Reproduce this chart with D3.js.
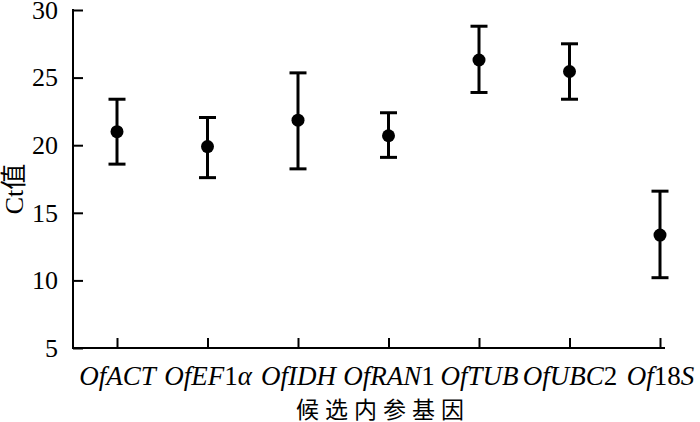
<!DOCTYPE html>
<html>
<head>
<meta charset="utf-8">
<script src="https://d3js.org/d3.v7.min.js"></script>
<style>
	body, html {
		margin: 0;
		padding: 0;
		background: #fff;
	}
	svg text {
		font-family: "Liberation Serif", "Times New Roman", "DejaVu Serif", "Noto Sans CJK SC", serif;
		fill: #000;
	}
	.axis path, .axis line {
		stroke: #000;
		stroke-width: 2;
	}
	.err {
		stroke: #000;
		stroke-width: 3;
		fill: none;
	}
</style>
</head>
<body>
<script>
	var categories = ["OfACT", "OfEF1α", "OfIDH", "OfRAN1", "OfTUB", "OfUBC2", "Of18S"];
	var ctMean  = [21.0, 19.9, 21.85, 20.7, 26.3, 25.45, 13.35];
	var ctUpper = [23.4, 22.05, 25.35, 22.4, 28.8, 27.5, 16.6];
	var ctLower = [18.6, 17.6, 18.25, 19.1, 23.9, 23.4, 10.2];
	var yTicks = [5, 10, 15, 20, 25, 30];

	var w = 700, h = 422;
	var plotLeft = 73, plotRight = 665, plotTop = 10, plotBottom = 348;

	var svg = d3.select("body").append("svg")
		.attr("width", w)
		.attr("height", h);

	var y = d3.scaleLinear().domain([5, 30]).range([plotBottom, plotTop]);
	var x = d3.scalePoint().domain(categories).range([117, 660]);

	var data = categories.map(function(c, i) {
		return {key: c, mean: ctMean[i], hi: ctUpper[i], lo: ctLower[i]};
	});

	// y axis, ticks pointing inward
	var yAxis = d3.axisLeft(y).tickValues(yTicks).tickSizeInner(-10).tickSizeOuter(0).tickPadding(15);
	var gy = svg.append("g").attr("class", "axis")
		.attr("transform", "translate(" + plotLeft + ",0)")
		.call(yAxis);
	gy.attr("font-family", null);
	gy.selectAll("text").style("font-size", "26px");
	gy.select(".domain").attr("d", "M0," + (plotTop - 1) + "V" + (plotBottom + 1));

	// x axis
	var xAxis = d3.axisBottom(x).tickSizeInner(-10).tickSizeOuter(0).tickFormat("");
	var gx = svg.append("g").attr("class", "axis")
		.attr("transform", "translate(0," + plotBottom + ")")
		.call(xAxis);
	gx.attr("font-family", null);
	gx.select(".domain").remove();
	gx.append("line")
		.attr("x1", plotLeft - 1).attr("x2", plotRight)
		.attr("y1", 0).attr("y2", 0);

	// tick labels: digits upright, the rest italic
	gx.selectAll(".tick").append("text")
		.attr("y", 37)
		.attr("text-anchor", "middle")
		.style("font-size", "27px")
		.each(function(d) {
			var t = d3.select(this);
			var parts = d.match(/[0-9]+|[^0-9]+/g);
			parts.forEach(function(p) {
				t.append("tspan")
					.style("font-style", /[0-9]/.test(p) ? "normal" : "italic")
					.text(p);
			});
		});

	// error bars
	var cap = 8.5;
	var g = svg.append("g");
	g.selectAll(".stem").data(data).enter().append("line")
		.attr("class", "err")
		.attr("x1", function(d) { return x(d.key); })
		.attr("x2", function(d) { return x(d.key); })
		.attr("y1", function(d) { return y(d.hi); })
		.attr("y2", function(d) { return y(d.lo); });
	g.selectAll(".capHi").data(data).enter().append("line")
		.attr("class", "err")
		.attr("x1", function(d) { return x(d.key) - cap; })
		.attr("x2", function(d) { return x(d.key) + cap; })
		.attr("y1", function(d) { return y(d.hi); })
		.attr("y2", function(d) { return y(d.hi); });
	g.selectAll(".capLo").data(data).enter().append("line")
		.attr("class", "err")
		.attr("x1", function(d) { return x(d.key) - cap; })
		.attr("x2", function(d) { return x(d.key) + cap; })
		.attr("y1", function(d) { return y(d.lo); })
		.attr("y2", function(d) { return y(d.lo); });
	g.selectAll(".dot").data(data).enter().append("circle")
		.attr("cx", function(d) { return x(d.key); })
		.attr("cy", function(d) { return y(d.mean); })
		.attr("r", 6.5)
		.style("fill", "#000");

	// axis titles
	svg.append("text")
		.attr("transform", "translate(23,189) rotate(-90)")
		.attr("text-anchor", "middle")
		.style("font-size", "26px")
		.text("Ct值");
	svg.append("text")
		.attr("x", 383)
		.attr("y", 418)
		.attr("text-anchor", "middle")
		.style("font-size", "23px")
		.style("letter-spacing", "6px")
		.text("候选内参基因");
</script>
</body>
</html>
